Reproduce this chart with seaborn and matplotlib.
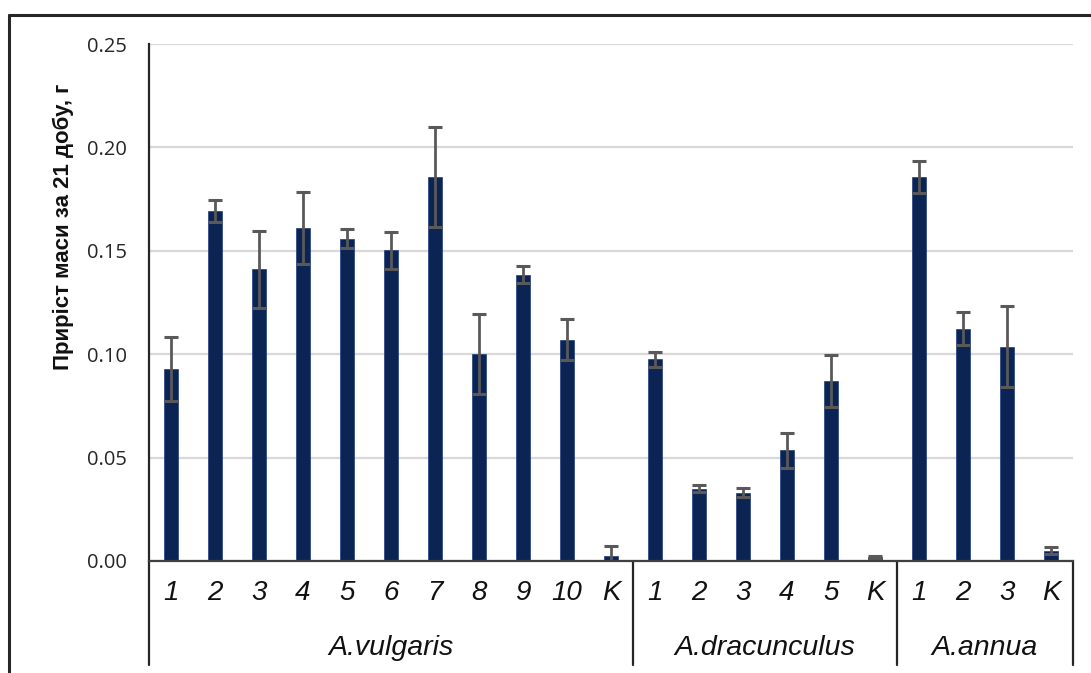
import matplotlib
matplotlib.use("Agg")
import matplotlib.pyplot as plt
import seaborn as sns
import pandas as pd
import numpy as np
from matplotlib.lines import Line2D

# ---- data ----
groups = ["A.vulgaris", "A.dracunculus", "A.annua"]
vulgaris_labels = ["1", "2", "3", "4", "5", "6", "7", "8", "9", "10", "K"]
vulgaris_values = [0.0927, 0.1694, 0.1411, 0.1609, 0.1559, 0.1502, 0.1857, 0.1001, 0.1384, 0.1070, 0.0026]
vulgaris_errors = [0.0155, 0.0053, 0.0186, 0.0174, 0.0045, 0.0089, 0.0243, 0.0193, 0.0041, 0.0099, 0.0047]
dracunculus_labels = ["1", "2", "3", "4", "5", "K"]
dracunculus_values = [0.0975, 0.0350, 0.0330, 0.0535, 0.0870, 0.0020]
dracunculus_errors = [0.0036, 0.0016, 0.0022, 0.0084, 0.0126, 0.0005]
annua_labels = ["1", "2", "3", "K"]
annua_values = [0.1857, 0.1123, 0.1036, 0.0050]
annua_errors = [0.0076, 0.0080, 0.0195, 0.0018]
y_ticks = [0.00, 0.05, 0.10, 0.15, 0.20, 0.25]
y_label = "Приріст маси за 21 добу, г"

labels_by_group = [vulgaris_labels, dracunculus_labels, annua_labels]
values_by_group = [vulgaris_values, dracunculus_values, annua_values]
errors_by_group = [vulgaris_errors, dracunculus_errors, annua_errors]

rows = []
for g, labs, vals, errs in zip(groups, labels_by_group, values_by_group, errors_by_group):
    for l, v, e in zip(labs, vals, errs):
        rows.append({"key": f"{g} {l}", "group": g, "label": l, "value": v, "err": e})
df = pd.DataFrame(rows)
order = list(df["key"])

sns.set_theme(style="white")
plt.rcParams["font.family"] = ["Liberation Sans", "DejaVu Sans"]

W, H = 1091, 673
fig = plt.figure(figsize=(W / 100, H / 100), dpi=100)
ax_left, ax_right, ax_top, ax_bottom = 149, 1073, 44, 561
ax = fig.add_axes([ax_left / W, 1 - ax_bottom / H, (ax_right - ax_left) / W, (ax_bottom - ax_top) / H])

bar_color = "#002060"
sns.barplot(data=df, x="key", y="value", order=order, color=bar_color, width=0.32,
            errorbar=None, ax=ax, zorder=3, edgecolor="#1f3d80", linewidth=0.5)

xpos = np.arange(len(df))
ax.errorbar(xpos, df["value"], yerr=df["err"], fmt="none", ecolor="#595959",
            elinewidth=2, capsize=5, capthick=2.2, zorder=4)

ax.set_xlim(-0.5, len(df) - 0.5)
ax.set_ylim(0, 0.25)
ax.set_yticks(y_ticks)
ax.set_yticklabels([f"{t:.2f}" for t in y_ticks], fontfamily="Open Sans", fontsize=14.5, color="#262626")
ax.yaxis.grid(True, color="#d9d9d9", linewidth=1.6, zorder=0)
ax.xaxis.grid(False)
ax.set_axisbelow(True)
ax.tick_params(axis="y", length=0, pad=16)
ax.tick_params(axis="x", length=0, pad=14)

ax.set_xticks(xpos)
ax.set_xticklabels(list(df["label"]), fontstyle="italic", fontsize=20, color="#111111")
ax.set_xlabel("")
ax.set_ylabel(y_label, fontsize=16, fontweight="bold", color="#111111")
ax.yaxis.set_label_coords(-0.081, 0.646)

for s in ["top", "right"]:
    ax.spines[s].set_visible(False)
ax.spines["left"].set_color("#262626")
ax.spines["left"].set_linewidth(1.6)
ax.spines["bottom"].set_color("#404040")
ax.spines["bottom"].set_linewidth(1.6)
ax.spines["bottom"].set_zorder(5)

# group separators and labels under the axis
trans = ax.get_xaxis_transform()
sep_bottom = -(665 - ax_bottom) / (ax_bottom - ax_top)
bounds = [-0.5]
n = 0
for labs in labels_by_group:
    n += len(labs)
    bounds.append(n - 0.5)
for b in bounds:
    ax.add_line(Line2D([b, b], [0, sep_bottom], transform=trans, color="#262626",
                       linewidth=1.6, clip_on=False))
glab_y = -(648 - ax_bottom) / (ax_bottom - ax_top)
for g, a, b in zip(groups, bounds[:-1], bounds[1:]):
    ax.text((a + b) / 2, glab_y, g, transform=trans, ha="center", va="center",
            fontstyle="italic", fontsize=20.5, color="#111111")

# outer frame (top and left visible)
fig.add_artist(Line2D([9 / W, 9 / W], [0, 1 - 15 / H], transform=fig.transFigure,
                      color="#262626", linewidth=2.2))
fig.add_artist(Line2D([9 / W, 1], [1 - 15 / H, 1 - 15 / H], transform=fig.transFigure,
                      color="#262626", linewidth=2.2))

fig.savefig("out.png", dpi=100, facecolor="white")
